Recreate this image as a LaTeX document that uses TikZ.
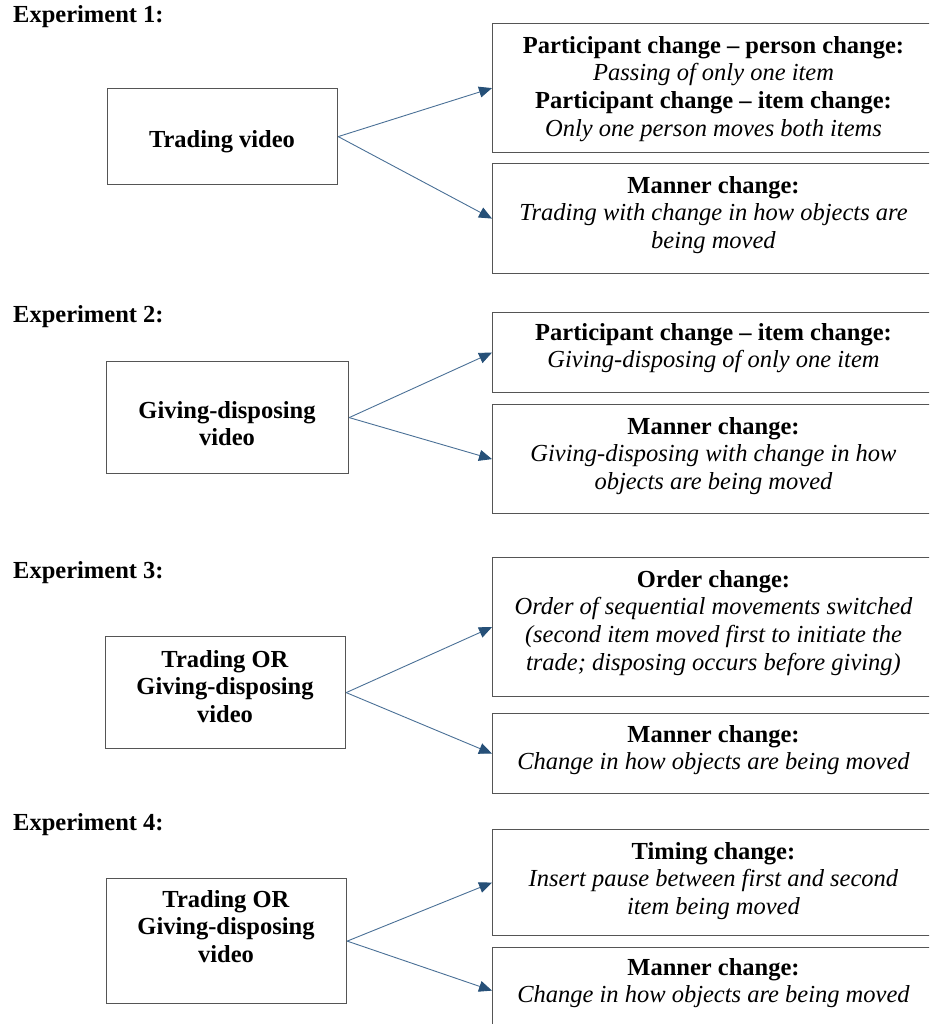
\documentclass[tikz,border=0pt]{standalone}
\usepackage{fontspec}
\setmainfont{Liberation Serif}
\usetikzlibrary{arrows.meta}
\definecolor{boxgray}{RGB}{85,85,85}
\definecolor{arrline}{RGB}{74,112,150}
\definecolor{arrhead}{RGB}{38,80,120}
\tikzset{
  every node/.style={font=\fontsize{24.5}{27.7}\selectfont},
  boxnode/.style={draw=boxgray, line width=1.2pt, inner sep=0pt, anchor=north west},
  txt/.style={align=center, inner sep=0pt, anchor=north},
  explabel/.style={anchor=base west, inner sep=0pt, font=\fontsize{24.5}{27.7}\selectfont\bfseries},
  conn/.style={draw=arrline, line width=0.9pt, -{Triangle[length=13pt,width=11pt,color=arrhead]}},
}
\begin{document}
\begin{tikzpicture}[x=1pt,y=-1pt]
\useasboundingbox (0,0) rectangle (929,1024);
\clip (0,0) rectangle (929,1024);

% Experiment labels
\node[explabel] (e1) at (13,23) {Experiment 1:};
\node[explabel] (e2) at (13,322) {Experiment 2:};
\node[explabel] (e3) at (13,578) {Experiment 3:};
\node[explabel] (e4) at (13,830) {Experiment 4:};

% Left boxes
\node[boxnode, minimum width=230pt, minimum height=96pt] (L1) at (107,88) {};
\node[boxnode, minimum width=242pt, minimum height=112pt] (L2) at (106,361) {};
\node[boxnode, minimum width=240pt, minimum height=112pt] (L3) at (105,636) {};
\node[boxnode, minimum width=240pt, minimum height=125pt] (L4) at (106,878) {};

\node[txt] (L1t) at (222,127.6) {\strut\textbf{Trading video}};
\node[txt] (L2t) at (227,398.6) {\strut\textbf{Giving-disposing}\\\textbf{video}};
\node[txt] (L3t) at (225,647.6) {\strut\textbf{Trading OR}\\\textbf{Giving-disposing}\\\textbf{video}};
\node[txt] (L4t) at (226,887.6) {\strut\textbf{Trading OR}\\\textbf{Giving-disposing}\\\textbf{video}};

% Right boxes
\node[boxnode, minimum width=443pt, minimum height=129pt] (R1a) at (492,23) {};
\node[boxnode, minimum width=443pt, minimum height=110pt] (R1b) at (492,163) {};
\node[boxnode, minimum width=443pt, minimum height=80pt] (R2a) at (492,312) {};
\node[boxnode, minimum width=443pt, minimum height=109pt] (R2b) at (492,404) {};
\node[boxnode, minimum width=443pt, minimum height=139pt] (R3a) at (492,557) {};
\node[boxnode, minimum width=443pt, minimum height=80pt] (R3b) at (492,713) {};
\node[boxnode, minimum width=443pt, minimum height=106pt] (R4a) at (492,829) {};
\node[boxnode, minimum width=443pt, minimum height=86pt] (R4b) at (492,947) {};

\node[txt] (R1at) at (713.5,33.6) {\strut\textbf{Participant change – person change:}\\\textit{Passing of only one item}\\\textbf{Participant change – item change:}\\\textit{Only one person moves both items}};
\node[txt] (R1bt) at (713.5,173.6) {\strut\textbf{Manner change:}\\\textit{Trading with change in how objects are}\\\textit{being moved}};
\node[txt] (R2at) at (713.5,320.6) {\strut\textbf{Participant change – item change:}\\\textit{Giving-disposing of only one item}};
\node[txt] (R2bt) at (713.5,414.6) {\strut\textbf{Manner change:}\\\textit{Giving-disposing with change in how}\\\textit{objects are being moved}};
\node[txt] (R3at) at (713.5,567.6) {\strut\textbf{Order change:}\\\textit{Order of sequential movements switched}\\\textit{(second item moved first to initiate the}\\\textit{trade; disposing occurs before giving)}};
\node[txt] (R3bt) at (713.5,722.6) {\strut\textbf{Manner change:}\\\textit{Change in how objects are being moved}};
\node[txt] (R4at) at (713.5,839.6) {\strut\textbf{Timing change:}\\\textit{Insert pause between first and second}\\\textit{item being moved}};
\node[txt] (R4bt) at (713.5,955.6) {\strut\textbf{Manner change:}\\\textit{Change in how objects are being moved}};

% Connectors
\draw[conn] (L1.east) -- (R1a.west);
\draw[conn] (L1.east) -- (R1b.west);
\draw[conn] (L2.east) -- (R2a.west);
\draw[conn] (L2.east) -- (R2b.west);
\draw[conn] (L3.east) -- (R3a.west);
\draw[conn] (L3.east) -- (R3b.west);
\draw[conn] (L4.east) -- (R4a.west);
\draw[conn] (L4.east) -- (R4b.west);
\end{tikzpicture}
\end{document}
